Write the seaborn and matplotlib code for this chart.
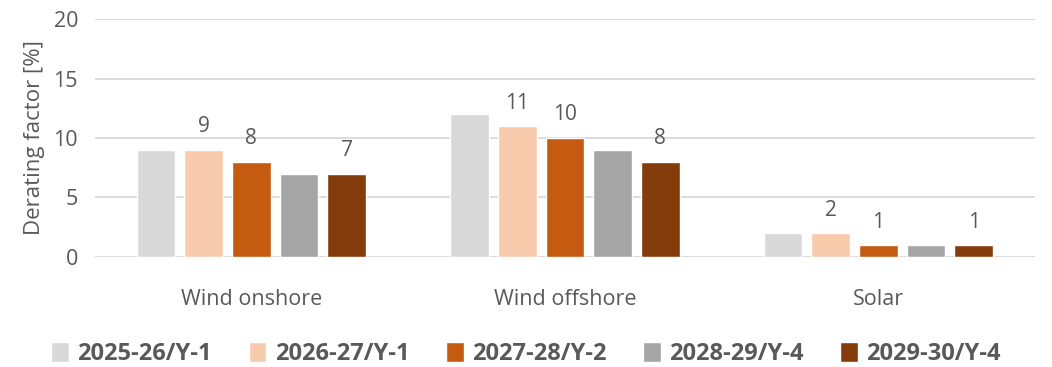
import matplotlib
matplotlib.use("Agg")
import matplotlib.pyplot as plt
import seaborn as sns
import pandas as pd

categories = ["Wind onshore", "Wind offshore", "Solar"]
series_names = ["2025-26/Y-1", "2026-27/Y-1", "2027-28/Y-2", "2028-29/Y-4", "2029-30/Y-4"]
values_2025 = [9, 12, 2]
values_2026 = [9, 11, 2]
values_2027 = [8, 10, 1]
values_2028 = [7, 9, 1]
values_2029 = [7, 8, 1]
colors = ["#D9D9D9", "#F8CBAD", "#C55A11", "#A5A5A5", "#843C0C"]
labelled_series = ["2026-27/Y-1", "2027-28/Y-2", "2029-30/Y-4"]

rows = []
for name, vals in zip(series_names,
                      [values_2025, values_2026, values_2027, values_2028, values_2029]):
    for cat, v in zip(categories, vals):
        rows.append({"Technology": cat, "Auction": name, "Derating": v})
df = pd.DataFrame(rows)

sns.set_theme(style="white")
plt.rcParams["font.family"] = ["Open Sans", "DejaVu Sans"]
text_color = "#595959"

fig = plt.figure(figsize=(10.52, 3.67), dpi=100)
ax = fig.add_axes([0.09, 0.30, 0.894, 0.648])

sns.barplot(data=df, x="Technology", y="Derating", hue="Auction",
            order=categories, hue_order=series_names, palette=colors,
            width=0.76, gap=0.19, saturation=1, ax=ax, legend=True)

for container, name in zip(ax.containers, series_names):
    if name in labelled_series:
        ax.bar_label(container, fmt="%d", padding=9, fontsize=15, color=text_color)

ax.set_ylim(0, 20)
ax.set_yticks([0, 5, 10, 15, 20])
ax.set_xlim(-0.5, 2.5)
ax.yaxis.grid(True, color="#D9D9D9", linewidth=1.3)
ax.set_axisbelow(True)
for s in ax.spines.values():
    s.set_visible(False)
ax.tick_params(axis="both", length=0, labelsize=15.5, colors=text_color)
ax.tick_params(axis="x", pad=23)
ax.tick_params(axis="y", pad=12)
ax.set_xlabel("")
ax.set_ylabel("Derating factor [%]", fontsize=16, color=text_color, labelpad=6)

handles, labels = ax.get_legend_handles_labels()
ax.legend_.remove()
leg = fig.legend(handles, labels, loc="center", bbox_to_anchor=(0.5, 0.035),
                 ncol=5, frameon=False, handlelength=0.75, handleheight=0.9,
                 handletextpad=0.35, columnspacing=1.55,
                 prop={"weight": "bold", "size": 17})
for t in leg.get_texts():
    t.set_color(text_color)

fig.savefig("out.png", dpi=100)
